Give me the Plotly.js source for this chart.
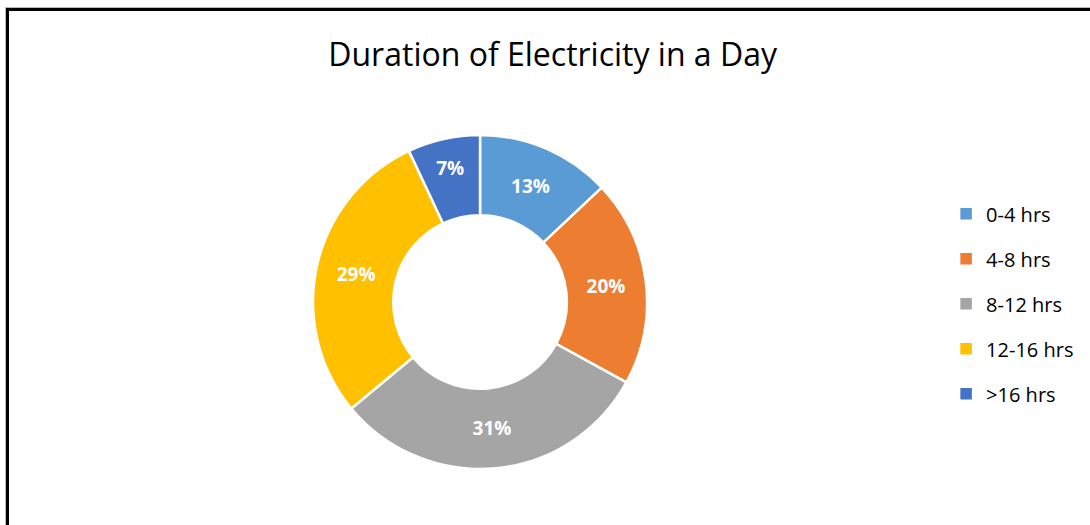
<!DOCTYPE html>
<html>
<head>
<meta charset="utf-8">
<script src="https://cdn.plot.ly/plotly-3.0.1.min.js"></script>
<style>
  html, body { margin: 0; padding: 0; background: #fff; overflow: hidden; }
  #wrap { position: relative; width: 1090px; height: 525px; }
  #chart { width: 1090px; height: 525px; }
  #frame { position: absolute; left: 6px; top: 8px; width: 1200px; height: 600px;
           border-left: 3px solid #000; border-top: 3px solid #000;
           box-shadow: -1px -1px 0 #bbb; pointer-events: none; }
</style>
</head>
<body>
<div id="wrap">
  <div id="chart"></div>
  <div id="frame"></div>
</div>
<script>
const categories = ["0-4 hrs", "4-8 hrs", "8-12 hrs", "12-16 hrs", ">16 hrs"];
const shares = [13, 20, 31, 29, 7];
const colors = ["#5B9BD5", "#ED7D31", "#A5A5A5", "#FFC000", "#4472C4"];
const chartTitle = "Duration of Electricity in a Day";

const FONT = "'Open Sans', 'Noto Sans', sans-serif";

const pie = {
  type: "pie",
  labels: categories,
  values: shares,
  sort: false,
  direction: "clockwise",
  rotation: 0,
  hole: 0.52,
  marker: { colors: colors, line: { color: "#ffffff", width: 2.5 } },
  texttemplate: "%{value}%",
  textposition: "inside",
  insidetextorientation: "horizontal",
  textfont: { family: FONT, size: 19, color: "#ffffff", weight: "bold" },
  domain: { x: [0.2872, 0.5936], y: [0.1067, 0.7429] },
  showlegend: false,
  hoverinfo: "label+percent"
};

// legend entries (one per category) so spacing can match the original
const legendTraces = categories.map((c, i) => ({
  type: "scatter",
  mode: "markers",
  x: [null], y: [null],
  name: c,
  legendgroup: "g" + i,
  marker: { symbol: "square", size: 11.5, color: colors[i] },
  showlegend: true,
  hoverinfo: "skip"
}));

const layout = {
  width: 1090,
  height: 525,
  margin: { l: 0, r: 0, t: 0, b: 0 },
  paper_bgcolor: "#ffffff",
  plot_bgcolor: "#ffffff",
  title: {
    text: chartTitle,
    font: { family: FONT, size: 32, color: "#000000" },
    x: 0.507, xanchor: "center",
    y: 0.895, yanchor: "middle"
  },
  xaxis: { visible: false },
  yaxis: { visible: false },
  legend: {
    x: 0.868, xanchor: "left",
    y: 0.63, yanchor: "top",
    font: { family: FONT, size: 20, color: "#000000" },
    tracegroupgap: 16,
    bgcolor: "rgba(0,0,0,0)"
  },
  showlegend: true
};

Plotly.newPlot("chart", [pie].concat(legendTraces), layout, { displayModeBar: false, staticPlot: true });
</script>
</body>
</html>
